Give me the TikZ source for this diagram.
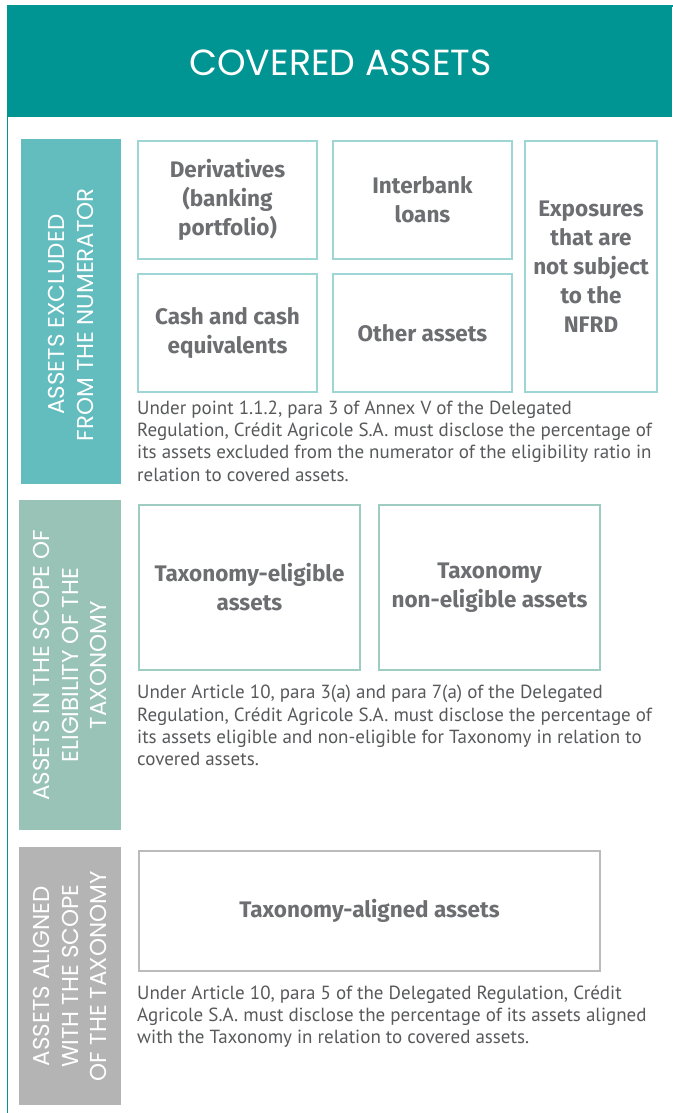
\documentclass[tikz,border=0pt]{standalone}
\usepackage{fontspec}
\setmainfont{PT Sans}
\newfontfamily\capfont{Poppins}
\newfontfamily\labfont{Fira Sans}
\definecolor{headteal}{HTML}{009593}
\definecolor{sideA}{HTML}{63BCBD}
\definecolor{edgeA}{HTML}{9ED6D5}
\definecolor{sideB}{HTML}{99C3B7}
\definecolor{edgeB}{HTML}{9FCCC0}
\definecolor{sideC}{HTML}{B4B4B5}
\definecolor{edgeC}{HTML}{BBBBBB}
\definecolor{bodygray}{HTML}{58595B}
\definecolor{labelgray}{HTML}{6D6E71}
\tikzset{
  sidebar/.style={inner sep=0pt, anchor=north west},
  sidelabel/.style={rotate=90, text=white, align=center, inner sep=0pt,
    font=\capfont\fontsize{23}{28.5}\selectfont},
  itembox/.style={draw=#1, line width=2pt, fill=white, anchor=north west, inner sep=2pt,
    align=center, text=labelgray, font=\labfont\bfseries\fontsize{22.5}{29}\selectfont},
  para/.style={anchor=base west, inner sep=0pt, align=left, text=bodygray,
    font=\fontsize{19}{22.2}\selectfont},
}
\begin{document}
\begin{tikzpicture}[x=1pt,y=-1pt]
\useasboundingbox (0,0) rectangle (672,1113);
\fill[white] (0,0) rectangle (672,1113);
% outer frame
\draw[headteal, line width=1.5pt] (7.5,6) rectangle (690,1130);
% header
\node[fill=headteal, inner sep=0pt, minimum width=665pt, minimum height=111pt, anchor=north west] (head) at (7,6) {};
\node[text=white, font=\capfont\fontsize{36.3}{40}\selectfont] (title) at (340.5,63) {COVERED ASSETS};

% ---------- section 1
\node[sidebar, fill=sideA, minimum width=100pt, minimum height=345pt] (s1) at (21,139) {};
\node[sidelabel] (s1t) at (s1.center) [xshift=-3pt] {ASSETS EXCLUDED\\FROM THE NUMERATOR};

\node[itembox=edgeA, minimum width=179pt, minimum height=118pt] (deriv) at (137,140) {Derivatives\\(banking\\portfolio)};
\node[itembox=edgeA, minimum width=179pt, minimum height=118pt] (cash) at (137,273) {Cash and cash\\equivalents};
\node[itembox=edgeA, minimum width=179pt, minimum height=118pt] (inter) at (332,140) {Interbank\\loans};
\node[itembox=edgeA, minimum width=179pt, minimum height=118pt] (other) at (332,273) {Other assets};
\node[itembox=edgeA, minimum width=132pt, minimum height=251pt] (expo) at (524,140) {Exposures\\that are\\not subject\\to the\\NFRD};

\node[para] (p1) at (137,481) {Under point 1.1.2, para 3 of Annex V of the Delegated\\Regulation, Crédit Agricole S.A. must disclose the percentage of\\its assets excluded from the numerator of the eligibility ratio in\\relation to covered assets.};

% ---------- section 2
\node[sidebar, fill=sideB, minimum width=102pt, minimum height=330pt] (s2) at (19,500) {};
\node[sidelabel] (s2t) at (s2.center) {ASSETS IN THE SCOPE OF\\ELIGIBILITY OF THE\\TAXONOMY};

\node[itembox=edgeB, minimum width=221pt, minimum height=165pt] (elig) at (138,504) {Taxonomy-eligible\\assets};
\node[itembox=edgeB, minimum width=221pt, minimum height=165pt] (nonelig) at (378,504) {Taxonomy\\non-eligible assets};

\node[para] (p2) at (137,765.5) {Under Article 10, para 3(a) and para 7(a) of the Delegated\\Regulation, Crédit Agricole S.A. must disclose the percentage of\\its assets eligible and non-eligible for Taxonomy in relation to\\covered assets.};

% ---------- section 3
\node[sidebar, fill=sideC, minimum width=102pt, minimum height=258pt] (s3) at (19,847) {};
\node[sidelabel] (s3t) at (s3.center) {ASSETS ALIGNED\\WITH THE SCOPE\\OF THE TAXONOMY};

\node[itembox=edgeC, minimum width=461pt, minimum height=120pt] (align) at (138,850) {Taxonomy-aligned assets};

\node[para] (p3) at (137,1043.5) {Under Article 10, para 5 of the Delegated Regulation, Crédit\\Agricole S.A. must disclose the percentage of its assets aligned\\with the Taxonomy in relation to covered assets.};
\end{tikzpicture}
\end{document}
